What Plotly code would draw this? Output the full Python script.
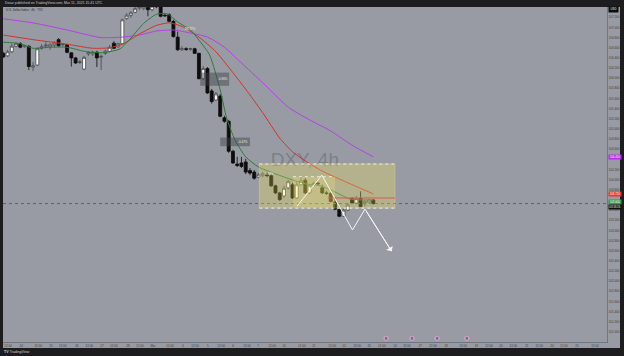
import plotly.graph_objects as go

# ---------------- data ----------------
BAR = list(range(88))
OPEN = [106.49, 106.44, 106.52, 106.63, 106.68, 106.62, 106.63, 106.22, 106.26, 106.59,
        106.63, 106.62, 106.65, 106.76, 106.66, 106.66, 106.50, 106.40, 106.31, 106.18,
        106.48, 106.48, 106.51, 106.41, 106.49, 106.53, 106.69, 106.62, 106.68, 107.18,
        107.24, 107.30, 107.38, 107.37, 107.40, 107.35, 107.42, 107.43, 107.24, 107.25,
        107.12, 106.81, 106.56, 106.58, 106.57, 106.58, 106.49, 105.99, 106.19, 105.75,
        105.57, 105.65, 105.22, 105.15, 104.56, 104.31, 104.33, 104.35, 104.18, 104.15,
        104.05, 104.08, 104.11, 104.08, 103.88, 103.74, 103.68, 103.84, 103.90, 103.64,
        103.90, 103.99, 103.74, 103.90, 103.93, 103.84, 103.74, 103.73, 103.56, 103.42,
        103.28, 103.40, 103.63, 103.54, 103.63, 103.53, 103.56, 103.60]
HIGH = [106.52, 106.56, 106.68, 106.71, 106.71, 106.66, 106.65, 106.32, 106.61, 106.67,
        106.71, 106.69, 106.73, 106.79, 106.69, 106.67, 106.51, 106.42, 106.36, 106.44,
        106.53, 106.54, 106.54, 106.46, 106.56, 106.65, 106.73, 106.70, 107.17, 107.28,
        107.32, 107.42, 107.44, 107.44, 107.44, 107.46, 107.46, 107.46, 107.28, 107.28,
        107.15, 106.92, 106.63, 106.61, 106.60, 106.60, 106.50, 106.24, 106.22, 105.79,
        105.73, 105.69, 105.26, 105.18, 104.59, 104.45, 104.45, 104.41, 104.23, 104.19,
        104.13, 104.15, 104.15, 104.11, 103.90, 103.76, 103.88, 103.99, 103.94, 103.96,
        104.05, 104.03, 103.92, 103.96, 103.96, 103.90, 103.78, 103.76, 103.66, 103.46,
        103.44, 103.54, 103.65, 103.68, 103.77, 103.60, 103.62, 103.62]
LOW = [106.40, 106.42, 106.50, 106.61, 106.59, 106.60, 106.16, 106.14, 106.24, 106.56,
       106.59, 106.56, 106.61, 106.62, 106.63, 106.49, 106.23, 106.28, 106.28, 106.16,
       106.44, 106.44, 106.22, 106.16, 106.46, 106.51, 106.58, 106.60, 106.67, 107.15,
       107.19, 107.28, 107.34, 107.34, 107.22, 107.32, 107.38, 107.20, 107.21, 107.10,
       106.80, 106.54, 106.54, 106.54, 106.54, 106.48, 105.98, 105.96, 105.69, 105.50,
       105.55, 105.23, 105.12, 104.53, 104.31, 104.25, 104.23, 104.11, 104.09, 104.00,
       104.03, 104.05, 104.05, 103.86, 103.72, 103.58, 103.64, 103.80, 103.62, 103.62,
       103.88, 103.72, 103.72, 103.88, 103.88, 103.72, 103.70, 103.55, 103.40, 103.26,
       103.27, 103.38, 103.52, 103.52, 103.46, 103.48, 103.54, 103.51]
CLOSE = [106.42, 106.52, 106.63, 106.68, 106.61, 106.64, 106.23, 106.24, 106.58, 106.62,
         106.65, 106.66, 106.69, 106.64, 106.67, 106.51, 106.40, 106.30, 106.32, 106.41,
         106.50, 106.51, 106.40, 106.43, 106.53, 106.61, 106.59, 106.68, 107.15, 107.24,
         107.29, 107.37, 107.40, 107.41, 107.35, 107.42, 107.41, 107.22, 107.23, 107.12,
         106.82, 106.56, 106.58, 106.57, 106.58, 106.49, 105.99, 106.19, 105.71, 105.54,
         105.69, 105.25, 105.15, 104.56, 104.33, 104.28, 104.26, 104.15, 104.13, 104.03,
         104.10, 104.12, 104.08, 103.88, 103.74, 103.61, 103.83, 103.96, 103.64, 103.90,
         103.98, 103.74, 103.89, 103.93, 103.92, 103.74, 103.73, 103.57, 103.42, 103.28,
         103.40, 103.50, 103.54, 103.63, 103.47, 103.57, 103.60, 103.53]

MA_FAST_X = [0, 4, 7, 11, 15, 19, 23, 26, 27.5, 30, 33, 36, 38.5, 41, 44, 46, 48.5, 51,
             52.5, 54.5, 57, 60, 63.5, 67.5, 71, 74.5, 77.5, 81.5, 87]
MA_FAST_Y = [106.71, 106.68, 106.59, 106.61, 106.61, 106.53, 106.50, 106.54, 106.58, 106.79,
             107.08, 107.26, 107.27, 107.11, 106.95, 106.75, 106.46, 105.77, 105.22, 104.78,
             104.45, 104.25, 104.13, 104.01, 103.92, 103.88, 103.78, 103.62, 103.60]
MA_MID_X = [0, 7, 15, 21, 25, 28, 32, 36, 39, 42, 46, 50, 55, 58, 61, 65, 68, 71, 75, 81, 87]
MA_MID_Y = [106.85, 106.76, 106.67, 106.59, 106.60, 106.67, 106.87, 107.04, 107.09, 107.02,
            106.81, 106.52, 106.00, 105.67, 105.32, 104.82, 104.55, 104.37, 104.17, 103.94,
            103.72]
MA_SLOW_X = [0, 7, 15, 23, 28, 32, 36, 40, 44, 48, 52, 56, 61, 67, 72, 77, 82, 87]
MA_SLOW_Y = [107.17, 107.09, 106.95, 106.80, 106.81, 106.85, 106.93, 106.95, 106.89, 106.81,
             106.61, 106.30, 105.91, 105.43, 105.18, 104.96, 104.68, 104.45]

# price-scale labels that are visible (the ones under the coloured labels are hidden)
PRICE_TICKS = [107.2, 107.0, 106.8, 106.6, 106.4, 106.2, 106.0, 105.8, 105.6, 105.4, 105.2,
               105.0, 104.8, 104.6, 104.2, 104.0, 103.8, 103.4, 103.2, 103.0,
               102.8, 102.6, 102.4, 102.2, 102.0, 101.8, 101.6, 101.4, 101.2, 101.0]
TIME_TICK_POS = [1.1, 4.2, 8.2, 11.2, 14.0, 17.3, 20.2, 23.2, 26.0, 29.3, 32.1, 35.2, 39.2,
                 42.2, 45.1, 48.1, 51.2, 54.0, 57.3, 59.9, 63.2, 66.0, 70.2, 73.0, 77.3, 80.1,
                 83.2, 86.0, 89.0, 92.1, 94.9, 98.0, 101.0, 104.1, 108.1, 111.2, 114.2, 117.0,
                 119.9, 123.1, 126.0, 129.0, 131.8, 134.9, 139.1]
TIME_TICK_TEXT = ['12:00', '24', '12:00', '25', '12:00', '26', '12:00', '27', '12:00', '28',
                  '12:00', 'Mar', '12:00', '4', '12:00', '5', '12:00', '6', '12:00', '7',
                  '12:00', '10', '12:00', '11', '12:00', '12', '12:00', '13', '12:00', '14',
                  '12:00', '17', '12:00', '18', '12:00', '19', '12:00', '20', '12:00', '21',
                  '12:00', '24', '12:00', '25', '12:00']

# drawings (chart annotations)
ZONE = dict(x0=60.2, x1=92.1, y0=103.44, y1=104.31)
ZONE_INNER = dict(x0=68.1, x1=78.0, y0=103.46, y1=104.06)
LEVEL = dict(x0=76.3, x1=92.1, y=103.64)
PATH_X = [69.1, 74.9, 82.1, 85.05]
PATH_Y = [103.48, 104.09, 103.01, 103.42]
ARROW_END = (91.3, 102.59)
MEASURE_BOXES = [(46.3, 53.1, 105.85, 106.11), (51.0, 58.0, 104.66, 104.83)]
MEASURE_TEXTS = [(51.6, 105.98, '-0.96%'), (56.4, 104.745, '-0.47%'),
                 (44.0, 106.96, '98.77%'), (62.5, 104.11, '-0.31%')]
EVENTS = [90.0, 96.1, 102.0, 109.0]

BG = '#989ba3'
DARK = '#1d1d1f'
AXTXT = '#3a3d44'

fig = go.Figure()
fig.add_trace(go.Scatter(x=[70.9], y=[104.37], mode='text', text=['DXY, 4h'],
                         textfont=dict(size=19, color='rgba(100,103,113,0.55)', family='Arial'),
                         hoverinfo='skip', showlegend=False))
fig.add_trace(go.Candlestick(
    x=BAR, open=OPEN, high=HIGH, low=LOW, close=CLOSE,
    increasing=dict(line=dict(color='#45484d', width=0.8), fillcolor='#ffffff'),
    decreasing=dict(line=dict(color='#0d0d0d', width=0.8), fillcolor='#0d0d0d'),
    whiskerwidth=0, showlegend=False, hoverinfo='skip'))
for xs, ys, col in [(MA_SLOW_X, MA_SLOW_Y, '#b440e6'), (MA_MID_X, MA_MID_Y, '#d0342c'),
                    (MA_FAST_X, MA_FAST_Y, '#2d7a3a')]:
    fig.add_trace(go.Scatter(x=xs, y=ys, mode='lines',
                             line=dict(color=col, width=1, shape='spline', smoothing=0.6),
                             hoverinfo='skip', showlegend=False))

shapes = []
# axis bands
shapes.append(dict(type='rect', xref='paper', yref='paper', x0=0, x1=1 + 13 / 604,
                   y0=-6 / 335, y1=0, fillcolor=BG, line=dict(width=0), layer='below'))
shapes.append(dict(type='rect', xref='paper', yref='paper', x0=1, x1=1 + 13 / 604,
                   y0=-6 / 335, y1=1, fillcolor=BG, line=dict(width=0), layer='below'))
# current price line
shapes.append(dict(type='line', xref='paper', yref='y', x0=0, x1=1, y0=CLOSE[-1], y1=CLOSE[-1],
                   line=dict(color='#5f626a', width=1, dash='dot'), layer='above'))
# zones
shapes.append(dict(type='rect', xref='x', yref='y', **ZONE, fillcolor='rgba(255,236,80,0.27)',
                   line=dict(color='rgba(235,225,160,0.55)', width=0.6), layer='above'))
shapes.append(dict(type='rect', xref='x', yref='y', **ZONE_INNER, fillcolor='rgba(255,240,110,0.2)',
                   line=dict(width=0), layer='above'))
for yv in (ZONE['y0'], ZONE['y1']):
    shapes.append(dict(type='line', xref='x', yref='y', x0=ZONE['x0'], x1=ZONE['x1'], y0=yv, y1=yv,
                       line=dict(color='rgba(246,246,236,0.9)', width=1, dash='dot'), layer='above'))
shapes.append(dict(type='line', xref='x', yref='y', x0=ZONE_INNER['x0'], x1=ZONE_INNER['x1'],
                   y0=ZONE_INNER['y1'], y1=ZONE_INNER['y1'],
                   line=dict(color='rgba(246,246,236,0.8)', width=1, dash='dot'), layer='above'))
shapes.append(dict(type='line', xref='x', yref='y', x0=LEVEL['x0'], x1=LEVEL['x1'], y0=LEVEL['y'],
                   y1=LEVEL['y'], line=dict(color='#e2545c', width=1), layer='above'))
# measurement boxes
for x0, x1, y0, y1 in MEASURE_BOXES:
    shapes.append(dict(type='rect', xref='x', yref='y', x0=x0, x1=x1, y0=y0, y1=y1,
                       fillcolor='rgba(62,64,70,0.45)', line=dict(width=0), layer='above'))
# projected path
path = 'M ' + ' L '.join(f'{a},{b}' for a, b in zip(PATH_X + [ARROW_END[0]], PATH_Y + [ARROW_END[1]]))
shapes.append(dict(type='path', xref='x', yref='y', path=path,
                   line=dict(color='#f5f5f5', width=1), layer='above'))
# event icons
for ex in EVENTS:
    shapes.append(dict(type='circle', xref='x', yref='paper', x0=ex - 0.6, x1=ex + 0.6,
                       y0=0.011 - 0.0075, y1=0.011 + 0.0075, fillcolor='#f1a3ab',
                       line=dict(width=0), layer='above'))
    shapes.append(dict(type='rect', xref='x', yref='paper', x0=ex - 0.3, x1=ex + 0.3,
                       y0=0.011 - 0.0045, y1=0.011 + 0.0045, fillcolor='#3f7de0',
                       line=dict(width=0), layer='above'))

ann = []
ann.append(dict(xref='paper', yref='paper', x=0, y=1 + 3.5 / 335, xanchor='left', yanchor='middle',
                text='Dxiaz published on TradingView.com, Mar 11, 2025 15:41 UTC',
                font=dict(size=3.5, color='#c9c9c9', family='Arial'), showarrow=False))
ann.append(dict(xref='paper', yref='paper', x=0.001, y=(342 - 9.5) / 335, xanchor='left',
                yanchor='middle', text='U.S. Dollar Index · 4h · TVC',
                font=dict(size=3, color='#2c2e34', family='Arial'), showarrow=False))
ann.append(dict(xref='paper', yref='paper', x=-0.002, y=(342 - 351.5) / 335, xanchor='left',
                yanchor='middle', text='<b>TV</b> TradingView',
                font=dict(size=3.6, color='#d0d0d0', family='Arial'), showarrow=False))
for x, y, t in MEASURE_TEXTS:
    ann.append(dict(xref='x', yref='y', x=x, y=y, text=t, showarrow=False,
                    font=dict(size=3, color='#eeeeee', family='Arial')))
# right-side price labels
labels = [(MA_SLOW_Y[-1], f'{MA_SLOW_Y[-1]:.3f}', '#b42ee8'),
          (MA_MID_Y[-1], f'{MA_MID_Y[-1]:.3f}', '#e53935'),
          (103.565, f'{MA_FAST_Y[-1]:.3f}', '#2e9e4f'),
          (103.47, '03:18:26', '#0f0f0f')]
for y, t, c in labels:
    ann.append(dict(xref='paper', yref='y', x=1 + 1 / 604, y=y, xanchor='left', yanchor='middle',
                    text=t, showarrow=False, bgcolor=c, width=12, height=3.8, borderpad=0,
                    font=dict(size=2.8, color='#ffffff', family='Arial')))
ann.append(dict(xref='paper', yref='paper', x=1 + 1 / 604, y=(342 - 9.7) / 335, xanchor='left',
                yanchor='middle', text='USD', showarrow=False, bgcolor='#0c0c0c', width=9,
                height=4.6, borderpad=0, font=dict(size=2.8, color='#ffffff', family='Arial')))
# arrow head of projection
ann.append(dict(xref='x', yref='y', x=ARROW_END[0], y=ARROW_END[1], ax=PATH_X[-1], ay=PATH_Y[-1],
                axref='x', ayref='y', text='', showarrow=True, arrowhead=1, arrowsize=1.3,
                arrowwidth=1, arrowcolor='#f5f5f5', standoff=0, startstandoff=0))

fig.update_layout(
    width=624, height=356, margin=dict(l=3, r=17, t=7, b=14),
    paper_bgcolor=DARK, plot_bgcolor=BG, showlegend=False, boxgap=0.0,
    shapes=shapes, annotations=ann,
    xaxis=dict(range=[-0.07, 141.95], rangeslider=dict(visible=False), tickmode='array',
               tickvals=TIME_TICK_POS, ticktext=TIME_TICK_TEXT,
               tickfont=dict(size=3, color=AXTXT, family='Arial'), showgrid=False, zeroline=False,
               showline=True, linecolor='#72757d', linewidth=1, ticks='', fixedrange=True),
    yaxis=dict(range=[100.802, 107.403], side='right', tickmode='array', tickvals=PRICE_TICKS,
               tickformat='.3f', tickfont=dict(size=3, color=AXTXT, family='Arial'),
               showgrid=False, zeroline=False, showline=True, linecolor='#72757d', linewidth=1,
               ticks='', fixedrange=True),
)

fig.write_html('out.html')
